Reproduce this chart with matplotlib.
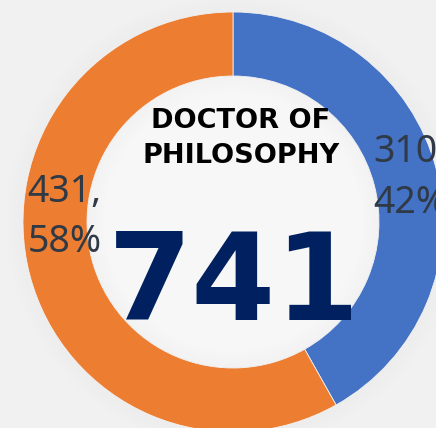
import matplotlib
matplotlib.use("Agg")
import matplotlib.pyplot as plt
from matplotlib.patches import Wedge

# data
labels = ["Blue group", "Orange group"]
values = [310, 431]
colors = ["#4472C4", "#ED7D31"]
title_lines = ["DOCTOR OF", "PHILOSOPHY"]
total = sum(values)

W, H = 436, 428
fig = plt.figure(figsize=(W / 100, H / 100), dpi=100, facecolor="#f1f1f1")
ax = fig.add_axes([0, 0, 1, 1])
ax.set_xlim(0, W)
ax.set_ylim(0, H)
ax.set_aspect("equal")
ax.axis("off")

cx, cy = 233, 206
r_out, ring = 210, 64
r_in = r_out - ring

# soft shadow outside the ring and inside the hole
for i in range(10):
    ax.add_patch(Wedge((cx, cy), r_out + 2 + i * 1.6, 0, 360, width=1.8,
                       color="#b8b8b8", alpha=0.05 * (10 - i) / 10, lw=0))
ax.add_patch(Wedge((cx, cy), r_in, 0, 360, color="#f7f7f7", lw=0))
for i in range(10):
    ax.add_patch(Wedge((cx, cy), r_in - i * 1.6, 0, 360, width=1.8,
                       color="#b8b8b8", alpha=0.06 * (10 - i) / 10, lw=0))

ax.pie(values, colors=colors, startangle=90, counterclock=False,
       center=(cx, cy), radius=r_out, frame=True,
       wedgeprops=dict(width=ring, linewidth=0.6, edgecolor="#f1f1f1"))
ax.set_xlim(0, W)
ax.set_ylim(0, H)
ax.axis("off")

# centre text
ax.text(cx + 8, 300, title_lines[0], ha="center", va="baseline",
        fontsize=19.5, fontweight="bold", family="DejaVu Sans", color="black")
ax.text(cx + 8, 265, title_lines[1], ha="center", va="baseline",
        fontsize=19.5, fontweight="bold", family="DejaVu Sans", color="black")
ax.text(cx + 1, 108, f"{total}", ha="center", va="baseline",
        fontsize=87, fontweight="bold", family="DejaVu Sans", color="#002060")

# data labels
lab_kw = dict(ha="left", va="baseline", fontsize=27, family="Noto Sans",
              color="#303a46")
pcts = [round(v / total * 100) for v in values]
ax.text(373, 266, f"{values[0]},", **lab_kw)
ax.text(373, 215, f"{pcts[0]}%", **lab_kw)
ax.text(27, 226, f"{values[1]},", **lab_kw)
ax.text(28, 176, f"{pcts[1]}%", **lab_kw)

fig.savefig("out.png", dpi=100, facecolor=fig.get_facecolor())
